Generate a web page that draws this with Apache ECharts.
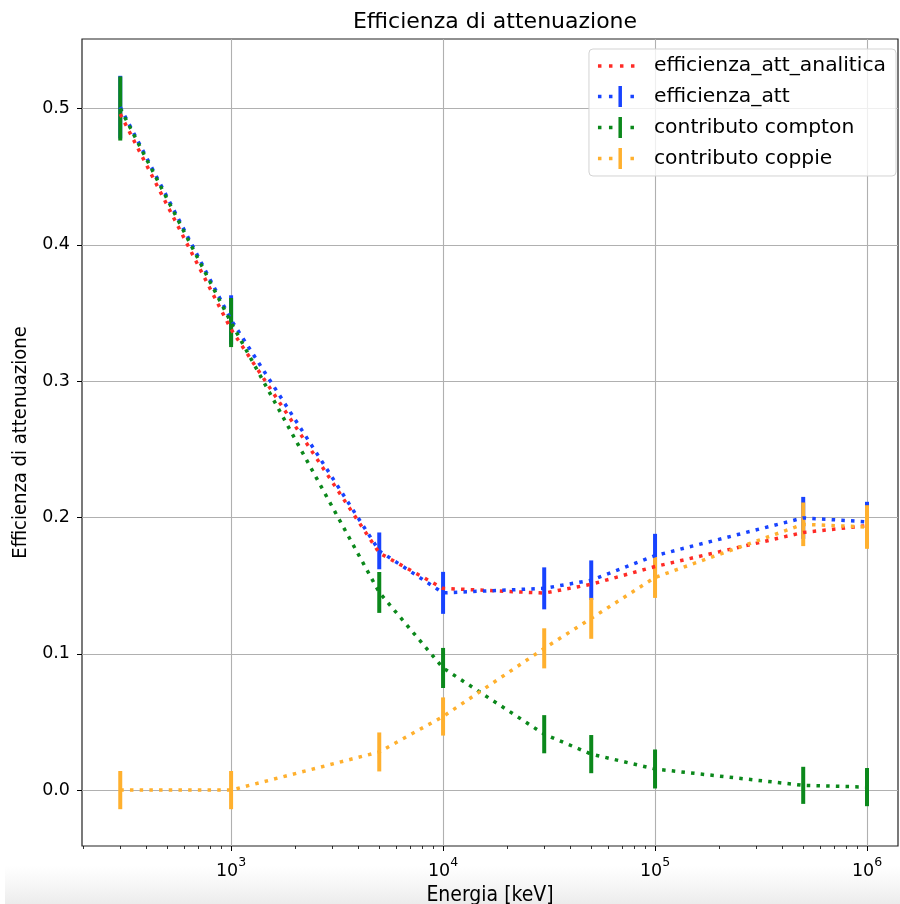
<!DOCTYPE html>
<html>
<head>
<meta charset="utf-8">
<title>Efficienza di attenuazione</title>
<script src="https://cdn.jsdelivr.net/npm/echarts@6/dist/echarts.min.js"></script>
<style>
  html, body { margin: 0; padding: 0; background: #fff; }
  #chart { width: 900px; height: 904px; }
</style>
</head>
<body>
<div id="chart"></div>
<script>
// energie [keV]
const energies = [300, 1000, 5000, 10000, 30000, 50000, 100000, 500000, 1000000]

const attAnalitica = [0.496, 0.338, 0.174, 0.148, 0.1445, 0.151, 0.164, 0.189, 0.194]
const att = [0.501, 0.345, 0.1755, 0.1447, 0.148, 0.154, 0.172, 0.1997, 0.1968]
const attErr = [0.023, 0.018, 0.0135, 0.0154, 0.0154, 0.0145, 0.016, 0.0154, 0.0147]
const compton = [0.500, 0.343, 0.145, 0.0896, 0.041, 0.0264, 0.0155, 0.0035, 0.0022]
const comptonErr = [0.0235, 0.018, 0.015, 0.0147, 0.014, 0.014, 0.0143, 0.0136, 0.014]
const coppie = [0, 0, 0.028, 0.054, 0.104, 0.126, 0.156, 0.195, 0.193]
const coppieErr = [0.014, 0.014, 0.0143, 0.014, 0.0147, 0.015, 0.015, 0.016, 0.016]

const xMajorTicks = [1e3, 1e4, 1e5, 1e6]
const yTicks = [0, 0.1, 0.2, 0.3, 0.4, 0.5]
const xMinorTicks = []
for (let d = 100; d <= 100000; d *= 10) {
  for (let k = 2; k <= 9; k++) {
    if (k * d >= 198) xMinorTicks.push(k * d)
  }
}

const xMin = 198
const xMax = 1.4e6
const yMin = -0.041
const yMax = 0.551

const RED = '#ff2b26'
const BLUE = '#1843ff'
const GREEN = '#0b881b'
const ORANGE = '#ffb02e'

const FONT = 'DejaVu Sans'
const gridPos = { left: 82, right: 2, top: 39, bottom: 58, outerBoundsMode: 'none' }

// legend icons: dotted line, with an error bar in the middle
const pad = ' M51,10.49h0.01v0.01h-0.01Z'
const iconLine = 'path://M0,8.75h3.5v3.5h-3.5Z M11,8.75h3.5v3.5h-3.5Z M22,8.75h3.5v3.5h-3.5Z M33,8.75h3.5v3.5h-3.5Z' + pad
const iconErr = 'path://M0,8.75h3.5v3.5h-3.5Z M11,8.75h3.5v3.5h-3.5Z M20.5,0h3.5v21h-3.5Z M32.5,8.75h3.5v3.5h-3.5Z' + pad

function pairs(ys) {
  return energies.map((x, i) => [x, ys[i]])
}

function lineSeries(name, ys, color) {
  return {
    name: name,
    type: 'line',
    data: pairs(ys),
    symbol: 'none',
    showSymbol: false,
    itemStyle: { color: color },
    lineStyle: { color: color, width: 3.5, type: [3.5, 6.2], cap: 'butt' },
    animation: false
  }
}

function errorSeries(name, ys, errs, color) {
  return {
    name: name,
    type: 'custom',
    data: energies.map((x, i) => [x, ys[i] - errs[i], ys[i] + errs[i]]),
    itemStyle: { color: color },
    encode: { x: 0, y: [1, 2] },
    renderItem: function (params, api) {
      const lo = api.coord([api.value(0), api.value(1)])
      const hi = api.coord([api.value(0), api.value(2)])
      return {
        type: 'line',
        shape: { x1: lo[0], y1: lo[1], x2: hi[0], y2: hi[1] },
        style: { stroke: color, lineWidth: 4 }
      }
    },
    animation: false
  }
}

const chart = echarts.init(document.getElementById('chart'))

chart.setOption({
  backgroundColor: '#fff',
  textStyle: { fontFamily: FONT },
  title: {
    text: 'Efficienza di attenuazione',
    left: 490,
    top: 6,
    textAlign: 'center',
    textStyle: { fontFamily: FONT, fontSize: 22, fontWeight: 'normal', color: '#000' }
  },
  graphic: [{
    type: 'rect',
    z: -1,
    silent: true,
    shape: { x: 5, y: 866, width: 895, height: 38 },
    style: {
      fill: new echarts.graphic.LinearGradient(0, 0, 0, 1, [
        { offset: 0, color: 'rgba(238,238,238,0)' },
        { offset: 1, color: '#ececec' }
      ])
    }
  }],
  legend: {
    orient: 'vertical',
    right: 4,
    top: 49,
    padding: [7, 10, 7, 9],
    itemWidth: 51,
    itemHeight: 21,
    itemGap: 10,
    backgroundColor: 'rgba(255,255,255,0.8)',
    borderColor: '#d3d3d3',
    borderWidth: 1,
    borderRadius: 4,
    itemStyle: { borderWidth: 0 },
    textStyle: { fontFamily: FONT, fontSize: 20.3, color: '#000' },
    data: [
      { name: 'efficienza_att_analitica', icon: iconLine },
      { name: 'efficienza_att', icon: iconErr },
      { name: 'contributo compton', icon: iconErr },
      { name: 'contributo coppie', icon: iconErr }
    ]
  },
  grid: [
    Object.assign({ show: true, borderColor: '#222', borderWidth: 1.2, backgroundColor: 'transparent' }, gridPos),
    Object.assign({ show: false }, gridPos)
  ],
  xAxis: [{
    type: 'log',
    gridIndex: 0,
    min: xMin,
    max: xMax,
    name: 'Energia [keV]',
    nameLocation: 'middle',
    nameGap: 37,
    nameTextStyle: { fontFamily: 'DejaVu Sans Condensed', fontSize: 21, color: '#000' },
    axisLine: { show: false, onZero: false },
    axisTick: { show: true, length: 5, inside: false, customValues: xMajorTicks, lineStyle: { color: '#000', width: 1 } },
    axisLabel: {
      customValues: xMajorTicks,
      margin: 10,
      formatter: function (v) {
        return '{b|10}{s|' + Math.round(Math.log10(v)) + '}'
      },
      rich: {
        b: { fontFamily: FONT, fontSize: 17.5, color: '#000', verticalAlign: 'bottom', lineHeight: 24 },
        s: { fontFamily: FONT, fontSize: 12.5, color: '#000', verticalAlign: 'top', lineHeight: 24 }
      }
    },
    splitLine: { show: true, lineStyle: { color: '#b0b0b0', width: 1.1 } }
  }, {
    type: 'log',
    gridIndex: 1,
    min: xMin,
    max: xMax,
    axisLine: { show: false, onZero: false },
    axisTick: { show: true, length: 3, inside: false, customValues: xMinorTicks, lineStyle: { color: '#000', width: 0.8 } },
    axisLabel: { show: false },
    splitLine: { show: false }
  }],
  yAxis: [{
    type: 'value',
    gridIndex: 0,
    min: yMin,
    max: yMax,
    name: 'Efficienza di attenuazione',
    nameLocation: 'middle',
    nameGap: 50,
    nameTextStyle: { fontFamily: 'DejaVu Sans Condensed', fontSize: 20, color: '#000' },
    axisLine: { show: false, onZero: false },
    axisTick: { show: true, length: 5, customValues: yTicks, lineStyle: { color: '#000', width: 1 } },
    axisLabel: {
      customValues: yTicks,
      margin: 12,
      fontFamily: FONT,
      fontSize: 17.5,
      color: '#000',
      formatter: function (v) { return v.toFixed(1) }
    },
    splitLine: { show: true, lineStyle: { color: '#b0b0b0', width: 1.1 } }
  }, {
    type: 'value',
    gridIndex: 1,
    min: yMin,
    max: yMax,
    show: false
  }],
  series: [
    lineSeries('efficienza_att_analitica', attAnalitica, RED),
    lineSeries('efficienza_att', att, BLUE),
    errorSeries('efficienza_att', att, attErr, BLUE),
    lineSeries('contributo compton', compton, GREEN),
    errorSeries('contributo compton', compton, comptonErr, GREEN),
    lineSeries('contributo coppie', coppie, ORANGE),
    errorSeries('contributo coppie', coppie, coppieErr, ORANGE)
  ]
})
</script>
</body>
</html>
